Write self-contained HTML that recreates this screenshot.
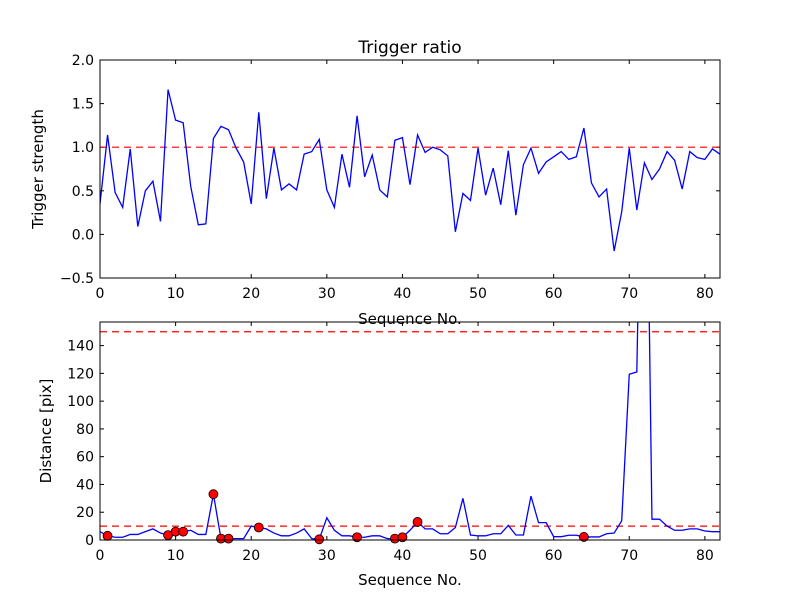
<!DOCTYPE html>
<html><head><meta charset="utf-8"><style>
body{margin:0;background:#fff}
text{font-family:"DejaVu Sans","Liberation Sans",sans-serif}
</style></head><body>
<svg id="chart" width="800" height="600" xmlns="http://www.w3.org/2000/svg">
<rect width="800" height="600" fill="#fff"/>
<defs>
<clipPath id="c1"><rect x="100" y="60" width="620" height="218"/></clipPath>
<clipPath id="c2"><rect x="100" y="322" width="620" height="218"/></clipPath>
</defs>
<g id="g"></g>
</svg>
<script>
const triggerValues=[0.35,1.14,0.48,0.31,0.98,0.09,0.50,0.61,0.15,1.66,1.31,1.28,0.55,0.11,0.12,1.10,1.24,1.20,0.99,0.83,0.35,1.40,0.41,0.99,0.51,0.58,0.51,0.92,0.95,1.09,0.51,0.31,0.92,0.54,1.36,0.66,0.91,0.51,0.43,1.08,1.11,0.57,1.14,0.94,1.0,0.97,0.90,0.03,0.47,0.39,0.99,0.45,0.76,0.34,0.96,0.22,0.80,0.99,0.70,0.83,0.89,0.95,0.86,0.89,1.22,0.59,0.43,0.52,-0.19,0.26,0.99,0.28,0.82,0.63,0.75,0.95,0.85,0.52,0.95,0.88,0.86,0.98,0.92];
const distanceValues=[6,3,2,2,4,4,6,8,5,3.5,6,6,7,4,4,33,1,1,1,1,10,9,8,5,3,3,5,8,1,0.5,16,7,3,3,2,2,3,3,1,1,2,7,13,8,8,4.5,4.5,9,30,3.6,3,3,4.5,4.5,10.5,3.6,3.6,31.6,12.5,12.5,2.4,2.4,3.4,3.4,2.2,2.2,2.2,4.5,5,13.8,119.4,121,420,15,15,10,7,7,8,8,6.5,6,6];
const markerIdx=[1,9,10,11,15,16,17,21,29,34,39,40,42,64];
const xTicks=[0,10,20,30,40,50,60,70,80];
const topYTicks=[-0.5,0.0,0.5,1.0,1.5,2.0];
const botYTicks=[0,20,40,60,80,100,120,140];
const topThreshold=1.0, botThresholds=[10,150];

const NS="http://www.w3.org/2000/svg";
const g=document.getElementById('g');
function mk(t,a,p){const e=document.createElementNS(NS,t);for(const k in a)e.setAttribute(k,a[k]);(p||g).appendChild(e);return e;}
const X0=100,X1=720,XMAX=82;
const sx=v=>X0+(v/XMAX)*(X1-X0);
function panel(top,bot,ymin,ymax,yticks,fmt,clip,name){
  const sy=v=>bot-(v-ymin)/(ymax-ymin)*(bot-top);
  const grp=mk('g',{});
  
  
  xTicks.forEach(t=>{const x=sx(t);
    mk('line',{x1:x,x2:x,y1:bot,y2:bot-4,stroke:'#000'},grp);
    mk('line',{x1:x,x2:x,y1:top,y2:top+4,stroke:'#000'},grp);
    const tx=mk('text',{x:x,y:bot+20,'text-anchor':'middle','font-size':14},grp);tx.textContent=t;
    
    
  });
  yticks.forEach(t=>{const y=sy(t);
    mk('line',{x1:X0,x2:X0+4,y1:y,y2:y,stroke:'#000'},grp);
    mk('line',{x1:X1,x2:X1-4,y1:y,y2:y,stroke:'#000'},grp);
    const tx=mk('text',{x:X0-6,y:y+5,'text-anchor':'end','font-size':14},grp);tx.textContent=fmt(t);
    
    
  });
  return {sy,grp};
}
// top panel
const p1=panel(60,278,-0.5,2.0,topYTicks,t=>t.toFixed(1).replace('-','\u2212'),'c1','trigger-panel');
const l1=mk('line',{x1:X0,x2:X1,y1:p1.sy(topThreshold),y2:p1.sy(topThreshold),stroke:'#f00','stroke-dasharray':'7,5','stroke-width':1.2,'clip-path':'url(#c1)'});


const path1=mk('polyline',{points:triggerValues.map((v,i)=>sx(i)+','+p1.sy(v)).join(' '),fill:'none',stroke:'#00f','stroke-width':1.3,'clip-path':'url(#c1)'});


mk('rect',{x:X0,y:60,width:620,height:218,fill:'none',stroke:'#000'});
// bottom panel
const p2=panel(322,540,0,157,botYTicks,t=>t,'c2','distance-panel');
botThresholds.forEach(v=>{const l=mk('line',{x1:X0,x2:X1,y1:p2.sy(v),y2:p2.sy(v),stroke:'#f00','stroke-dasharray':'7,5','stroke-width':1.2,'clip-path':'url(#c2)'});
  
  });
const path2=mk('polyline',{points:distanceValues.map((v,i)=>sx(i)+','+p2.sy(v)).join(' '),fill:'none',stroke:'#00f','stroke-width':1.3,'clip-path':'url(#c2)'});


markerIdx.forEach(i=>{const c=mk('circle',{cx:sx(i),cy:p2.sy(distanceValues[i]),r:4.5,fill:'#f00',stroke:'#000','stroke-width':0.8});
  
  });
mk('rect',{x:X0,y:322,width:620,height:218,fill:'none',stroke:'#000'});
// labels
function lbl(txt,a,name){const t=mk('text',a);t.textContent=txt;}
lbl('Trigger ratio',{x:410,y:53,'text-anchor':'middle','font-size':17},'chart-title');
lbl('Sequence No.',{x:410,y:324,'text-anchor':'middle','font-size':15},'top-x-axis-title');
lbl('Sequence No.',{x:410,y:585,'text-anchor':'middle','font-size':15},'bottom-x-axis-title');
lbl('Trigger strength',{x:43,y:169,'text-anchor':'middle','font-size':15,transform:'rotate(-90 43 169)'},'top-y-axis-title');
lbl('Distance [pix]',{x:51,y:431,'text-anchor':'middle','font-size':15,transform:'rotate(-90 51 431)'},'bottom-y-axis-title');
</script>
</body></html>
